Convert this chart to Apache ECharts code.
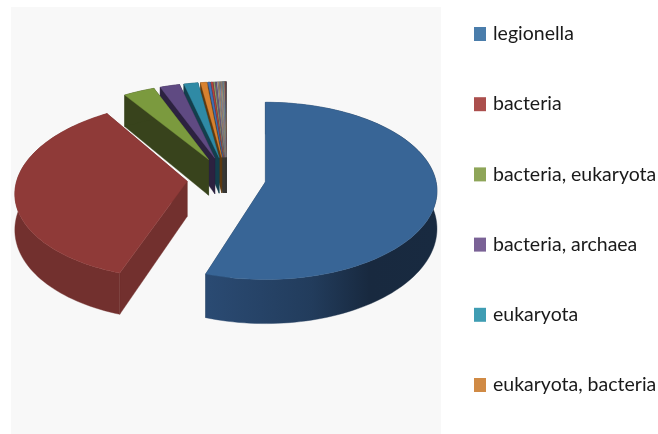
<!DOCTYPE html>
<html>
<head>
<meta charset="utf-8">
<style>html,body{margin:0;padding:0;background:#fff}#chart{width:658px;height:434px}</style>
<script src="https://cdn.jsdelivr.net/npm/echarts@6/dist/echarts.min.js"></script>
</head>
<body>
<div id="chart"></div>
<script>
// Named domains, shown in the legend
const categories = ['legionella', 'bacteria', 'bacteria, eukaryota', 'bacteria, archaea', 'eukaryota', 'eukaryota, bacteria'];
const categoryValues = [55.15, 35.7, 3.35, 2.1, 1.5, 0.65];
// Thin remaining slices that the legend leaves out
const minorValues = [0.26, 0.2, 0.16, 0.13, 0.11, 0.1, 0.09, 0.08, 0.08, 0.07, 0.06, 0.06, 0.05, 0.05, 0.05, 0.04];

const topColors = ['#386596', '#8f3a38', '#7b9a3e', '#5f4a82', '#2f8aa5', '#d8812f'];
const wallColors = ['#1f3650', '#72302e', '#38431c', '#2c2240', '#133f4c', '#5e3a10'];
const legendColors = ['#4a7dab', '#ab4f4d', '#8ea558', '#7a6296', '#3f9db3', '#d08a45'];
const minorColors = ['#3f6fb5', '#b5403c', '#8d9a6a', '#6f5a8d', '#a5a5a5', '#c49a6c', '#7f9fc0', '#c98f8d', '#b0c090', '#9a8ab0', '#80b0c0', '#d0a070'];

// Projection of the tilted disc
const cx = 226.5, cy = 178.5, radiusX = 170, radiusY = 87;
const perspective = 0.1, height = 37, explodeX = 0.232, explodeY = 0.25;
const bacteriaVanishX = 0.2, bacteriaHeight = 35;

const allValues = categoryValues.concat(minorValues);
const total = allValues.reduce((a, b) => a + b, 0);

// Each slice shrinks with distance toward its own vertical vanishing line
function project(p, anchor, lift) {
  const f = 1 / (1 - perspective * p[1]);
  return [
    cx + radiusX * (anchor + (p[0] - anchor) * f),
    cy + radiusY * p[1] * f + lift * Math.pow(f, 1.6)
  ];
}

function slicePaths(start, end, index) {
  const mid = (start + end) / 2;
  const ox = explodeX * Math.sin(mid), oy = -explodeY * Math.cos(mid);
  const anchor = index === 1 ? bacteriaVanishX : ox;
  const depth = index === 1 ? bacteriaHeight : height;
  const steps = Math.max(2, Math.ceil((end - start) / 0.03));
  const rim = [];
  for (let i = 0; i <= steps; i++) {
    const t = start + (end - start) * i / steps;
    rim.push([ox + Math.sin(t), oy - Math.cos(t)]);
  }
  const apex = [ox, oy];
  const up = p => project(p, anchor, 0);
  const down = p => project(p, anchor, depth);
  return {
    top: [up(apex)].concat(rim.map(up)),
    startWall: [up(apex), up(rim[0]), down(rim[0]), down(apex)],
    endWall: [up(apex), up(rim[steps]), down(rim[steps]), down(apex)],
    rimWall: rim.map(up).concat(rim.slice().reverse().map(down))
  };
}

// Cumulative sweep: slices run clockwise from twelve o'clock
let sweep = 0;
const slices = allValues.map((v, i) => {
  const start = sweep;
  sweep += v / total * Math.PI * 2;
  const named = i < categories.length;
  return {
    name: named ? categories[i] : 'other ' + (i - categories.length + 1),
    value: v,
    start, end: sweep,
    top: named ? topColors[i] : minorColors[(i - categories.length) % minorColors.length],
    wall: named ? wallColors[i] : '#3a3a38',
    legend: named ? legendColors[i] : minorColors[(i - categories.length) % minorColors.length]
  };
});

const rimGradient = {
  type: 'linear', x: 209, y: 0, x2: 438, y2: 0, global: true,
  colorStops: [{offset: 0, color: '#2a4a72'}, {offset: 0.45, color: '#223c5c'}, {offset: 0.7, color: '#18293f'}, {offset: 1, color: '#182a40'}]
};

// Far slices are painted first so nearer ones overlap them
const series = slices.map((s, i) => ({
  type: 'custom',
  name: s.name,
  coordinateSystem: 'none',
  silent: true,
  z: 100 - i,
  itemStyle: {color: s.legend},
  data: [[s.value]],
  renderItem: () => {
    const p = slicePaths(s.start, s.end, i);
    const poly = (points, fill) => ({
      type: 'polygon',
      shape: {points},
      style: {fill, stroke: fill, lineWidth: 0.4}
    });
    return {
      type: 'group',
      children: [
        poly(p.endWall, s.wall),
        poly(p.startWall, s.wall),
        poly(p.rimWall, i === 0 ? rimGradient : s.wall),
        poly(p.top, s.top)
      ]
    };
  }
}));

const chart = echarts.init(document.getElementById('chart'), null, {renderer: 'canvas'});
chart.setOption({
  animation: false,
  backgroundColor: '#ffffff',
  graphic: [{
    type: 'rect', z: -10, silent: true,
    shape: {x: 11, y: 7, width: 430, height: 427},
    style: {fill: '#f8f8f8'}
  }],
  legend: {
    orient: 'vertical',
    left: 474,
    top: 23,
    icon: 'rect',
    itemWidth: 12,
    itemHeight: 14,
    itemGap: 48.2,
    padding: 0,
    selectedMode: false,
    data: categories,
    textStyle: {fontFamily: 'Lato', fontSize: 19.5, color: '#1a1a1a', lineHeight: 22, padding: [0, 0, 0, 2]}
  },
  series
});
</script>
</body>
</html>
